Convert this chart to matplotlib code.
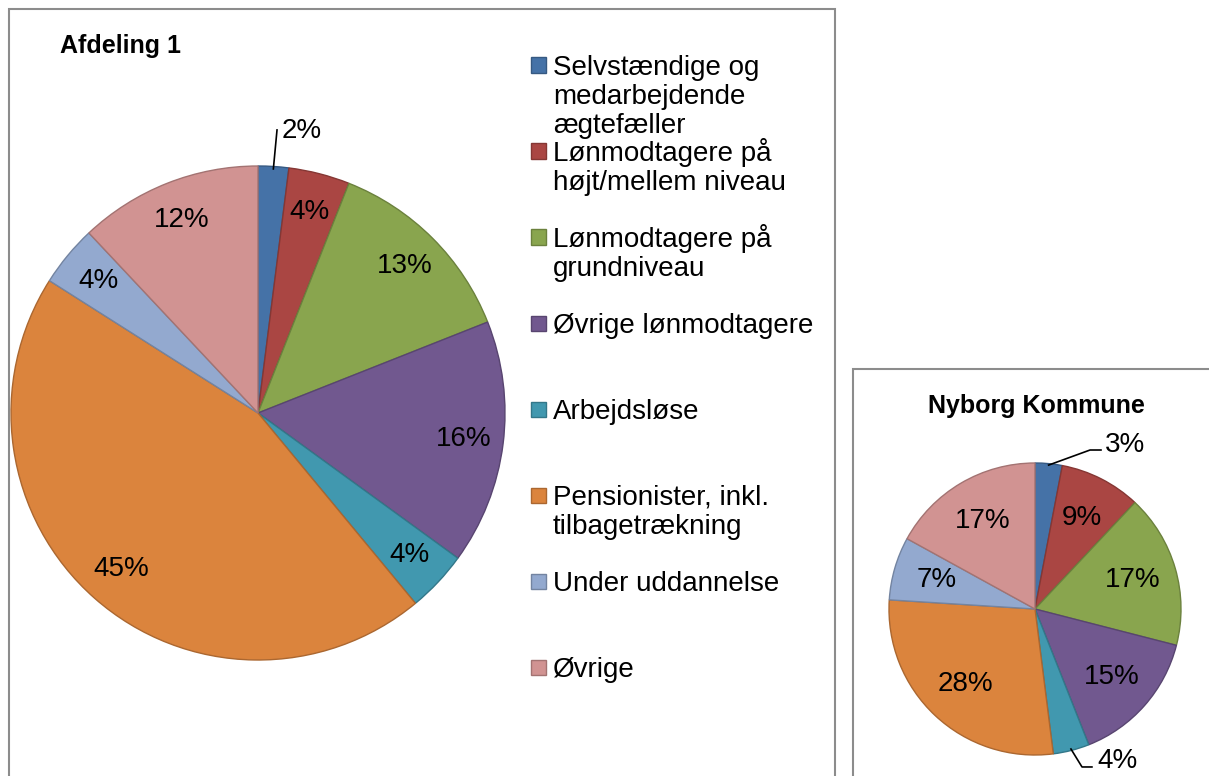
import matplotlib
matplotlib.use("Agg")
import matplotlib.pyplot as plt
from matplotlib.patches import Rectangle
import numpy as np
import matplotlib.colors as mcolors

plt.rcParams['font.family'] = ['Liberation Sans', 'DejaVu Sans']

# data
categories = [
    "Selvstændige og\nmedarbejdende\nægtefæller",
    "Lønmodtagere på\nhøjt/mellem niveau",
    "Lønmodtagere på\ngrundniveau",
    "Øvrige lønmodtagere",
    "Arbejdsløse",
    "Pensionister, inkl.\ntilbagetrækning",
    "Under uddannelse",
    "Øvrige",
]
afdeling_vals = [2, 4, 13, 16, 4, 45, 4, 12]
nyborg_vals = [3, 9, 17, 15, 4, 28, 7, 17]
colors = ["#4572A7", "#AA4643", "#89A54E", "#71588F",
          "#4198AF", "#DB843D", "#93A9CF", "#D19392"]

W, H = 1209, 776
fig = plt.figure(figsize=(W / 100, H / 100), dpi=100)


def px(x, y):
    return x / W, 1 - y / H


def darker(c, f=0.78):
    r, g, b = mcolors.to_rgb(c)
    return (r * f, g * f, b * f)


# frames
fig.patches.append(Rectangle(px(8.5, 800), 826 / W, 791 / H, transform=fig.transFigure,
                             fill=False, edgecolor="#8c8c8c", lw=1.5))
fig.patches.append(Rectangle(px(852.5, 800), 400 / W, 431 / H, transform=fig.transFigure,
                             fill=False, edgecolor="#8c8c8c", lw=1.5))


def draw_pie(cx, cy, r, vals, pctdist, outside):
    x0, y0 = px(cx - r, cy + r)
    ax = fig.add_axes([x0, y0, 2 * r / W, 2 * r / H])
    wedges, _ = ax.pie(vals, colors=colors, startangle=90, counterclock=False,
                       radius=1, wedgeprops=dict(lw=1.0))
    for w, c in zip(wedges, colors):
        w.set_edgecolor(darker(c))
    ax.set_xlim(-1, 1)
    ax.set_ylim(-1, 1)
    ax.set_aspect("equal")
    ax.axis("off")
    for i, (w, v) in enumerate(zip(wedges, vals)):
        mid = np.deg2rad((w.theta1 + w.theta2) / 2)
        if i in outside:
            (tx, ty), pts = outside[i]
            line = [(0.99 * np.cos(mid), 0.99 * np.sin(mid))] + pts
            ax.plot([p[0] for p in line], [p[1] for p in line], color="black",
                    lw=1.2, clip_on=False)
            ax.text(tx, ty, f"{v}%", ha="left", va="baseline", fontsize=20,
                    clip_on=False)
        else:
            ax.text(pctdist * np.cos(mid), pctdist * np.sin(mid), f"{v}%",
                    ha="center", va="center", fontsize=20)
    return ax


draw_pie(258, 413, 247, afdeling_vals, 0.84,
         {0: ((0.097, 1.113), [(0.077, 1.146)])})
draw_pie(1035, 609, 146, nyborg_vals, 0.70,
         {0: ((0.479, 1.075), [(0.377, 1.089), (0.452, 1.089)]),
          4: ((0.425, -1.089), [(0.322, -1.082), (0.39, -1.082)])})

# titles
fig.text(*px(60, 53), "Afdeling 1", fontsize=18, fontweight="bold",
         ha="left", va="baseline")
fig.text(*px(1036, 413), "Nyborg Kommune", fontsize=18, fontweight="bold",
         ha="center", va="baseline")

# legend
for i, (lab, c) in enumerate(zip(categories, colors)):
    my = 65 + 86 * i
    fig.patches.append(Rectangle(px(531, my + 7.5), 15 / W, 15 / H,
                                 transform=fig.transFigure, facecolor=c,
                                 edgecolor=darker(c), lw=1))
    for j, line in enumerate(lab.split("\n")):
        fig.text(*px(553, my + 10 + 29 * j), line, fontsize=20,
                 ha="left", va="baseline")

fig.savefig("out.png", dpi=100)
